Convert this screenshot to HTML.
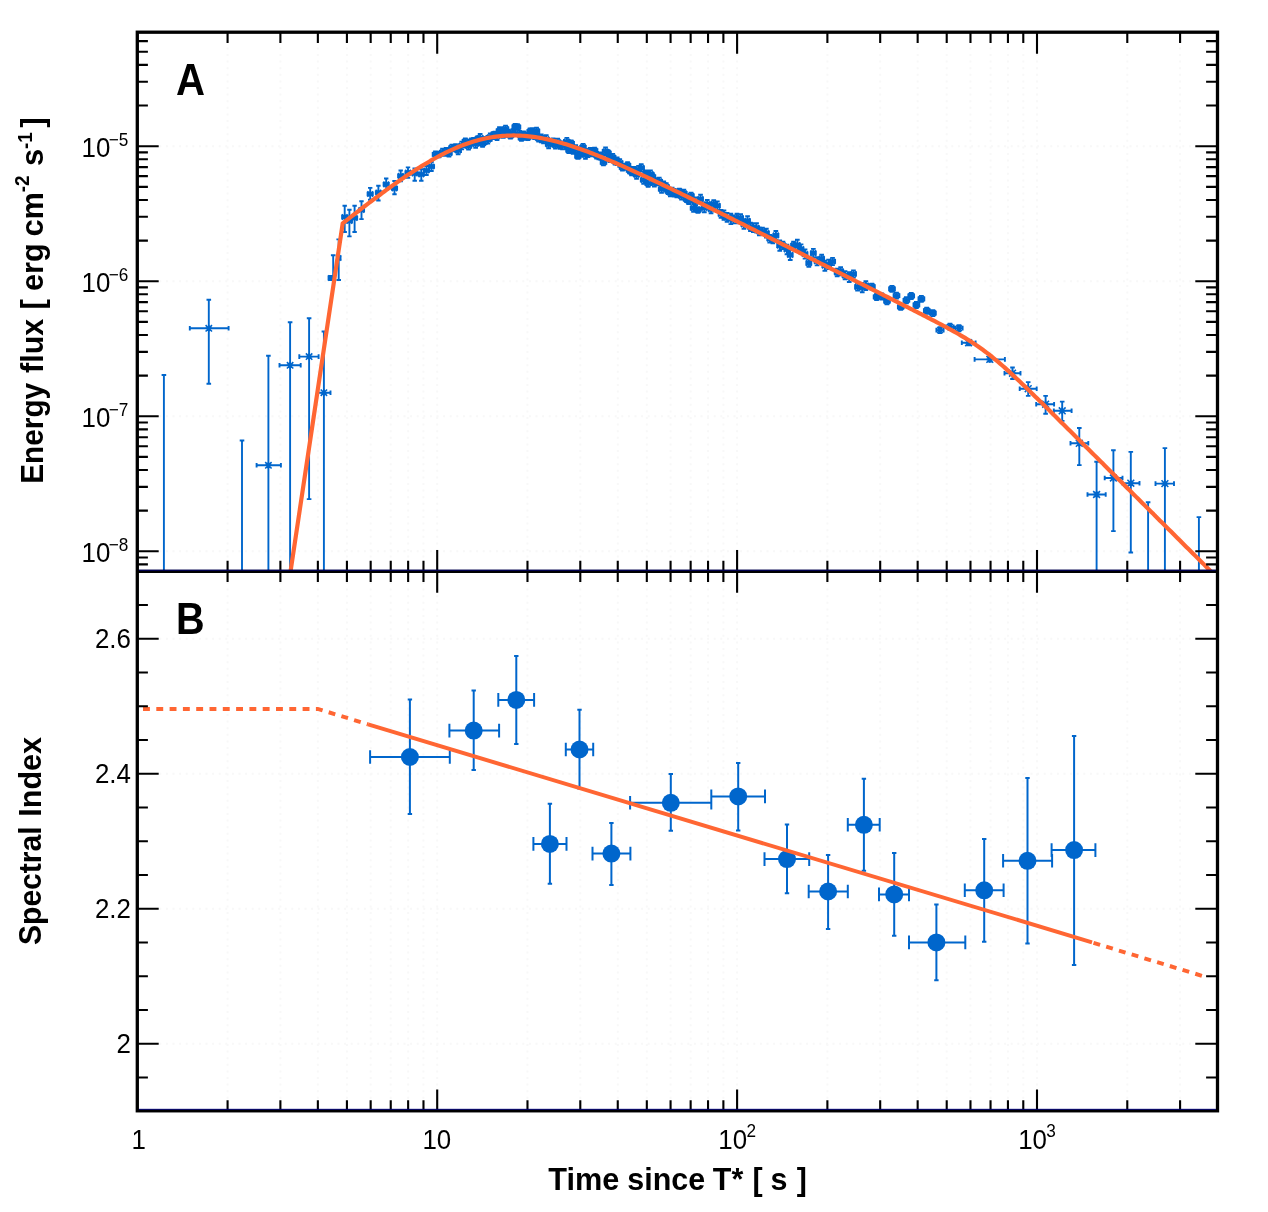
<!DOCTYPE html>
<html lang="en"><head><meta charset="utf-8"><title>Energy flux and spectral index</title>
<style>html,body{margin:0;padding:0;background:#fff}svg{display:block;will-change:transform}</style></head>
<body>
<svg width="1268" height="1212" viewBox="0 0 1268 1212">
<rect x="0" y="0" width="1268" height="1212" fill="#ffffff"/>
<defs>
<clipPath id="cu"><rect x="137.3" y="32.2" width="1080.2" height="538.5999999999999"/></clipPath>
<clipPath id="cl"><rect x="137.3" y="571.4" width="1080.2" height="539.4"/></clipPath>
</defs>
<path d="M227.58 34.2V1108.8M280.39 34.2V1108.8M317.86 34.2V1108.8M346.92 34.2V1108.8M370.67 34.2V1108.8M390.74 34.2V1108.8M408.14 34.2V1108.8M423.48 34.2V1108.8M527.48 34.2V1108.8M580.29 34.2V1108.8M617.76 34.2V1108.8M646.82 34.2V1108.8M670.57 34.2V1108.8M690.64 34.2V1108.8M708.04 34.2V1108.8M723.38 34.2V1108.8M827.38 34.2V1108.8M880.19 34.2V1108.8M917.66 34.2V1108.8M946.72 34.2V1108.8M970.47 34.2V1108.8M990.54 34.2V1108.8M1007.94 34.2V1108.8M1023.28 34.2V1108.8M1127.28 34.2V1108.8M1180.09 34.2V1108.8M1217.56 34.2V1108.8M437.20 34.2V1108.8M737.10 34.2V1108.8M1037.00 34.2V1108.8M159.3 551.29H1195.5M159.3 416.26H1195.5M159.3 281.23H1195.5M159.3 146.20H1195.5M159.3 1043.70H1195.5M159.3 908.70H1195.5M159.3 773.70H1195.5M159.3 638.70H1195.5" fill="none" stroke="#f8f8f8" stroke-width="2" stroke-dasharray="2 4.6"/>
<g clip-path="url(#cu)" fill="none" stroke="#0066cc">
<path d="M163.9 375.0V571.4M161.6 375.0h4.6M189.8 328.3H228.6M189.8 326.0v4.6M228.6 326.0v4.6M208.8 299.8V383.8M206.5 299.8h4.6M206.5 383.8h4.6M242.0 440.5V571.4M239.7 440.5h4.6M256.6 465.3H280.9M256.6 463.0v4.6M280.9 463.0v4.6M268.4 355.8V571.4M266.1 355.8h4.6M279.5 365.3H300.7M279.5 363.0v4.6M300.7 363.0v4.6M290.1 322.2V571.4M287.8 322.2h4.6M299.3 356.6H318.6M299.3 354.3v4.6M318.6 354.3v4.6M309.1 318.3V499.1M306.8 318.3h4.6M306.8 499.1h4.6M317.8 392.7H330.5M317.8 390.4v4.6M330.5 390.4v4.6M323.9 331.5V571.4M321.6 331.5h4.6M328.6 278.0H332.4M328.6 276.2v3.6M332.4 276.2v3.6M330.5 276.0V280.0M328.7 276.0h3.6M328.7 280.0h3.6M333.2 255.2V280.0M330.9 255.2h4.6M330.9 280.0h4.6M337.0 258.0H340.4M337.0 255.7v4.6M340.4 255.7v4.6M338.7 239.4V280.0M336.4 239.4h4.6M336.4 280.0h4.6M342.1 217.0H347.3M342.1 214.8v4.4M347.3 214.8v4.4M344.7 205.7V232.0M342.5 205.7h4.4M342.5 232.0h4.4M346.8 221.0H352.0M346.8 218.8v4.4M352.0 218.8v4.4M349.4 209.7V236.4M347.2 209.7h4.4M347.2 236.4h4.4M352.0 218.0H357.2M352.0 215.8v4.4M357.2 215.8v4.4M354.6 205.7V232.0M352.4 205.7h4.4M352.4 232.0h4.4M358.9 210.0H364.1M358.9 207.8v4.4M364.1 207.8v4.4M361.5 201.3V219.1M359.3 201.3h4.4M359.3 219.1h4.4M367.6 194.0H372.8M367.6 191.8v4.4M372.8 191.8v4.4M370.2 187.9V199.8M368.0 187.9h4.4M368.0 199.8h4.4M375.8 192.6H381.0M375.8 190.4v4.4M381.0 190.4v4.4M378.4 185.8V200.5M376.2 185.8h4.4M376.2 200.5h4.4M383.6 184.3H388.8M383.6 182.1v4.4M388.8 182.1v4.4M386.2 178.5V190.0M384.0 178.5h4.4M384.0 190.0h4.4M391.9 188.3H397.1M391.9 186.1v4.4M397.1 186.1v4.4M394.5 181.0V194.2M392.3 181.0h4.4M392.3 194.2h4.4M398.1 175.9H403.3M398.1 173.7v4.4M403.3 173.7v4.4M400.7 170.5V181.3M398.5 170.5h4.4M398.5 181.3h4.4M405.4 172.6H410.6M405.4 170.4v4.4M410.6 170.4v4.4M408.0 167.4V177.8M405.8 167.4h4.4M405.8 177.8h4.4M412.1 173.4H417.3M412.1 171.2v4.4M417.3 171.2v4.4M414.7 168.5V180.8M412.5 168.5h4.4M412.5 180.8h4.4M418.7 174.3H423.9M418.7 172.1v4.4M423.9 172.1v4.4M421.3 169.3V180.8M419.1 169.3h4.4M419.1 180.8h4.4M423.9 170.5H429.1M423.9 168.3v4.4M429.1 168.3v4.4M426.5 166.0V175.0M424.3 166.0h4.4M424.3 175.0h4.4M428.9 166.5H434.1M428.9 164.3v4.4M434.1 164.3v4.4M431.5 162.0V171.0M429.3 162.0h4.4M429.3 171.0h4.4M432.7 154.5H438.3M432.7 152.1v4.7M438.3 152.1v4.7M435.5 151.5V157.5M433.1 151.5h4.7M433.1 157.5h4.7M436.1 154.5H441.7M436.1 152.1v4.7M441.7 152.1v4.7M438.9 151.6V157.3M436.5 151.6h4.7M436.5 157.3h4.7M439.8 152.3H445.4M439.8 150.0v4.7M445.4 150.0v4.7M442.6 148.8V155.8M440.2 148.8h4.7M440.2 155.8h4.7M443.3 152.0H448.9M443.3 149.6v4.7M448.9 149.6v4.7M446.1 148.0V155.9M443.8 148.0h4.7M443.8 155.9h4.7M446.2 153.1H451.8M446.2 150.7v4.7M451.8 150.7v4.7M449.0 149.5V156.6M446.6 149.5h4.7M446.6 156.6h4.7M449.1 147.8H454.7M449.1 145.5v4.7M454.7 145.5v4.7M451.9 144.6V151.1M449.6 144.6h4.7M449.6 151.1h4.7M452.8 147.8H458.4M452.8 145.4v4.7M458.4 145.4v4.7M455.6 144.1V151.4M453.2 144.1h4.7M453.2 151.4h4.7M455.4 150.5H461.0M455.4 148.2v4.7M461.0 148.2v4.7M458.2 146.8V154.3M455.8 146.8h4.7M455.8 154.3h4.7M459.0 145.5H464.6M459.0 143.2v4.7M464.6 143.2v4.7M461.8 141.6V149.4M459.4 141.6h4.7M459.4 149.4h4.7M462.6 141.4H468.2M462.6 139.0v4.7M468.2 139.0v4.7M465.4 138.4V144.4M463.0 138.4h4.7M463.0 144.4h4.7M465.7 146.2H471.3M465.7 143.8v4.7M471.3 143.8v4.7M468.5 142.8V149.6M466.2 142.8h4.7M466.2 149.6h4.7M468.7 141.4H474.3M468.7 139.0v4.7M474.3 139.0v4.7M471.5 138.4V144.3M469.1 138.4h4.7M469.1 144.3h4.7M470.8 141.0H476.4M470.8 138.7v4.7M476.4 138.7v4.7M473.6 137.9V144.1M471.2 137.9h4.7M471.2 144.1h4.7M472.8 144.0H478.4M472.8 141.7v4.7M478.4 141.7v4.7M475.6 140.3V147.8M473.3 140.3h4.7M473.3 147.8h4.7M475.1 139.0H480.7M475.1 136.7v4.7M480.7 136.7v4.7M477.9 136.1V142.0M475.5 136.1h4.7M475.5 142.0h4.7M477.4 138.0H483.0M477.4 135.6v4.7M483.0 135.6v4.7M480.2 134.0V141.9M477.8 134.0h4.7M477.8 141.9h4.7M479.7 143.6H485.3M479.7 141.3v4.7M485.3 141.3v4.7M482.5 140.5V146.8M480.2 140.5h4.7M480.2 146.8h4.7M482.5 140.5H488.1M482.5 138.1v4.7M488.1 138.1v4.7M485.3 136.9V144.0M482.9 136.9h4.7M482.9 144.0h4.7M485.1 139.7H490.7M485.1 137.3v4.7M490.7 137.3v4.7M487.9 135.9V143.5M485.5 135.9h4.7M485.5 143.5h4.7M487.5 137.1H493.1M487.5 134.7v4.7M493.1 134.7v4.7M490.3 133.4V140.8M487.9 133.4h4.7M487.9 140.8h4.7M490.2 135.6H495.8M490.2 133.2v4.7M495.8 133.2v4.7M493.0 132.1V139.0M490.7 132.1h4.7M490.7 139.0h4.7M492.3 134.4H497.9M492.3 132.1v4.7M497.9 132.1v4.7M495.1 131.6V137.3M492.7 131.6h4.7M492.7 137.3h4.7M494.2 136.2H499.8M494.2 133.9v4.7M499.8 133.9v4.7M497.0 132.5V140.0M494.7 132.5h4.7M494.7 140.0h4.7M496.6 130.9H502.2M496.6 128.5v4.7M502.2 128.5v4.7M499.4 127.2V134.5M497.1 127.2h4.7M497.1 134.5h4.7M498.5 130.9H504.1M498.5 128.6v4.7M504.1 128.6v4.7M501.3 128.0V133.8M499.0 128.0h4.7M499.0 133.8h4.7M500.4 134.8H506.0M500.4 132.4v4.7M506.0 132.4v4.7M503.2 131.8V137.8M500.9 131.8h4.7M500.9 137.8h4.7M502.7 128.8H508.3M502.7 126.5v4.7M508.3 126.5v4.7M505.5 125.6V132.0M503.2 125.6h4.7M503.2 132.0h4.7M505.0 133.2H510.6M505.0 130.9v4.7M510.6 130.9v4.7M507.8 129.7V136.8M505.4 129.7h4.7M505.4 136.8h4.7M507.7 135.7H513.3M507.7 133.3v4.7M513.3 133.3v4.7M510.5 132.8V138.6M508.1 132.8h4.7M508.1 138.6h4.7M510.1 132.3H515.7M510.1 130.0v4.7M515.7 130.0v4.7M512.9 129.1V135.5M510.5 129.1h4.7M510.5 135.5h4.7M512.4 126.9H518.0M512.4 124.5v4.7M518.0 124.5v4.7M515.2 123.9V129.9M512.8 123.9h4.7M512.8 129.9h4.7M514.7 127.1H520.3M514.7 124.7v4.7M520.3 124.7v4.7M517.5 124.3V129.9M515.1 124.3h4.7M515.1 129.9h4.7M516.8 134.0H522.4M516.8 131.6v4.7M522.4 131.6v4.7M519.6 130.9V137.1M517.2 130.9h4.7M517.2 137.1h4.7M518.6 137.8H524.2M518.6 135.5v4.7M524.2 135.5v4.7M521.4 134.9V140.7M519.1 134.9h4.7M519.1 140.7h4.7M520.6 134.2H526.2M520.6 131.9v4.7M526.2 131.9v4.7M523.4 131.4V137.1M521.1 131.4h4.7M521.1 137.1h4.7M523.1 136.7H528.7M523.1 134.4v4.7M528.7 134.4v4.7M525.9 133.6V139.8M523.6 133.6h4.7M523.6 139.8h4.7M525.1 137.0H530.7M525.1 134.7v4.7M530.7 134.7v4.7M527.9 134.1V140.0M525.6 134.1h4.7M525.6 140.0h4.7M527.3 131.6H532.9M527.3 129.3v4.7M532.9 129.3v4.7M530.1 128.4V134.8M527.8 128.4h4.7M527.8 134.8h4.7M529.2 131.9H534.8M529.2 129.6v4.7M534.8 129.6v4.7M532.0 128.3V135.6M529.6 128.3h4.7M529.6 135.6h4.7M531.8 135.5H537.4M531.8 133.1v4.7M537.4 133.1v4.7M534.6 131.9V139.0M532.2 131.9h4.7M532.2 139.0h4.7M533.7 131.0H539.3M533.7 128.7v4.7M539.3 128.7v4.7M536.5 127.7V134.4M534.2 127.7h4.7M534.2 134.4h4.7M535.8 138.4H541.4M535.8 136.1v4.7M541.4 136.1v4.7M538.6 135.4V141.5M536.3 135.4h4.7M536.3 141.5h4.7M538.5 138.4H544.1M538.5 136.0v4.7M544.1 136.0v4.7M541.3 134.5V142.2M538.9 134.5h4.7M538.9 142.2h4.7M540.8 139.7H546.4M540.8 137.3v4.7M546.4 137.3v4.7M543.6 135.9V143.4M541.2 135.9h4.7M541.2 143.4h4.7M543.4 139.2H549.0M543.4 136.9v4.7M549.0 136.9v4.7M546.2 135.2V143.2M543.9 135.2h4.7M543.9 143.2h4.7M545.8 144.5H551.4M545.8 142.1v4.7M551.4 142.1v4.7M548.6 140.7V148.2M546.3 140.7h4.7M546.3 148.2h4.7M548.4 142.4H554.0M548.4 140.1v4.7M554.0 140.1v4.7M551.2 139.5V145.4M548.8 139.5h4.7M548.8 145.4h4.7M550.3 142.0H555.9M550.3 139.7v4.7M555.9 139.7v4.7M553.1 138.4V145.6M550.7 138.4h4.7M550.7 145.6h4.7M552.6 145.2H558.2M552.6 142.9v4.7M558.2 142.9v4.7M555.4 142.0V148.5M553.1 142.0h4.7M553.1 148.5h4.7M554.9 142.0H560.5M554.9 139.7v4.7M560.5 139.7v4.7M557.7 138.6V145.4M555.4 138.6h4.7M555.4 145.4h4.7M557.6 145.1H563.2M557.6 142.8v4.7M563.2 142.8v4.7M560.4 141.5V148.8M558.0 141.5h4.7M558.0 148.8h4.7M559.7 145.3H565.3M559.7 143.0v4.7M565.3 143.0v4.7M562.5 141.4V149.2M560.2 141.4h4.7M560.2 149.2h4.7M562.1 145.5H567.7M562.1 143.1v4.7M567.7 143.1v4.7M564.9 141.8V149.2M562.6 141.8h4.7M562.6 149.2h4.7M564.0 141.5H569.6M564.0 139.1v4.7M569.6 139.1v4.7M566.8 137.9V145.1M564.5 137.9h4.7M564.5 145.1h4.7M566.2 150.3H571.8M566.2 147.9v4.7M571.8 147.9v4.7M569.0 147.4V153.1M566.7 147.4h4.7M566.7 153.1h4.7M568.4 143.4H574.0M568.4 141.0v4.7M574.0 141.0v4.7M571.2 140.5V146.2M568.8 140.5h4.7M568.8 146.2h4.7M570.3 150.4H575.9M570.3 148.1v4.7M575.9 148.1v4.7M573.1 147.1V153.7M570.8 147.1h4.7M570.8 153.7h4.7M572.9 149.1H578.5M572.9 146.7v4.7M578.5 146.7v4.7M575.7 145.2V153.0M573.4 145.2h4.7M573.4 153.0h4.7M575.1 156.1H580.7M575.1 153.8v4.7M580.7 153.8v4.7M577.9 153.3V158.9M575.6 153.3h4.7M575.6 158.9h4.7M577.9 151.3H583.5M577.9 149.0v4.7M583.5 149.0v4.7M580.7 148.2V154.5M578.3 148.2h4.7M578.3 154.5h4.7M580.2 147.2H585.8M580.2 144.9v4.7M585.8 144.9v4.7M583.0 143.9V150.5M580.7 143.9h4.7M580.7 150.5h4.7M582.6 155.0H588.2M582.6 152.7v4.7M588.2 152.7v4.7M585.4 151.1V158.9M583.1 151.1h4.7M583.1 158.9h4.7M585.1 153.9H590.7M585.1 151.5v4.7M590.7 151.5v4.7M587.9 150.6V157.1M585.5 150.6h4.7M585.5 157.1h4.7M587.5 150.7H593.1M587.5 148.3v4.7M593.1 148.3v4.7M590.3 147.9V153.4M588.0 147.9h4.7M588.0 153.4h4.7M589.5 153.3H595.1M589.5 150.9v4.7M595.1 150.9v4.7M592.3 150.3V156.2M590.0 150.3h4.7M590.0 156.2h4.7M591.8 150.6H597.4M591.8 148.3v4.7M597.4 148.3v4.7M594.6 147.7V153.6M592.2 147.7h4.7M592.2 153.6h4.7M593.8 155.3H599.4M593.8 152.9v4.7M599.4 152.9v4.7M596.6 151.9V158.6M594.3 151.9h4.7M594.3 158.6h4.7M596.0 155.9H601.6M596.0 153.5v4.7M601.6 153.5v4.7M598.8 152.4V159.4M596.5 152.4h4.7M596.5 159.4h4.7M597.9 156.2H603.5M597.9 153.8v4.7M603.5 153.8v4.7M600.7 152.4V159.9M598.4 152.4h4.7M598.4 159.9h4.7M600.7 162.5H606.3M600.7 160.1v4.7M606.3 160.1v4.7M603.5 159.6V165.4M601.1 159.6h4.7M601.1 165.4h4.7M602.7 151.4H608.3M602.7 149.1v4.7M608.3 149.1v4.7M605.5 147.5V155.3M603.2 147.5h4.7M603.2 155.3h4.7M605.2 153.2H610.8M605.2 150.8v4.7M610.8 150.8v4.7M608.0 150.2V156.2M605.6 150.2h4.7M605.6 156.2h4.7M607.3 158.1H612.9M607.3 155.8v4.7M612.9 155.8v4.7M610.1 154.2V162.0M607.7 154.2h4.7M607.7 162.0h4.7M609.9 157.4H615.5M609.9 155.0v4.7M615.5 155.0v4.7M612.7 153.9V160.9M610.4 153.9h4.7M610.4 160.9h4.7M612.4 161.3H618.0M612.4 159.0v4.7M618.0 159.0v4.7M615.2 158.0V164.6M612.8 158.0h4.7M612.8 164.6h4.7M614.3 161.2H619.9M614.3 158.9v4.7M619.9 158.9v4.7M617.1 157.5V165.0M614.8 157.5h4.7M614.8 165.0h4.7M617.0 163.0H622.6M617.0 160.6v4.7M622.6 160.6v4.7M619.8 159.2V166.8M617.4 159.2h4.7M617.4 166.8h4.7M619.7 167.4H625.3M619.7 165.0v4.7M625.3 165.0v4.7M622.5 164.3V170.5M620.1 164.3h4.7M620.1 170.5h4.7M622.3 166.9H627.9M622.3 164.5v4.7M627.9 164.5v4.7M625.1 164.0V169.8M622.8 164.0h4.7M622.8 169.8h4.7M624.7 165.3H630.3M624.7 162.9v4.7M630.3 162.9v4.7M627.5 162.1V168.4M625.2 162.1h4.7M625.2 168.4h4.7M626.7 170.1H632.3M626.7 167.7v4.7M632.3 167.7v4.7M629.5 166.7V173.4M627.1 166.7h4.7M627.1 173.4h4.7M628.7 171.8H634.3M628.7 169.5v4.7M634.3 169.5v4.7M631.5 168.4V175.3M629.2 168.4h4.7M629.2 175.3h4.7M631.4 170.6H637.0M631.4 168.3v4.7M637.0 168.3v4.7M634.2 166.9V174.4M631.8 166.9h4.7M631.8 174.4h4.7M633.7 174.8H639.3M633.7 172.4v4.7M639.3 172.4v4.7M636.5 170.8V178.7M634.2 170.8h4.7M634.2 178.7h4.7M635.7 169.5H641.3M635.7 167.1v4.7M641.3 167.1v4.7M638.5 165.9V173.1M636.2 165.9h4.7M636.2 173.1h4.7M638.4 167.8H644.0M638.4 165.5v4.7M644.0 165.5v4.7M641.2 164.3V171.4M638.9 164.3h4.7M638.9 171.4h4.7M640.8 180.0H646.4M640.8 177.6v4.7M646.4 177.6v4.7M643.6 176.3V183.7M641.3 176.3h4.7M641.3 183.7h4.7M643.2 173.3H648.8M643.2 170.9v4.7M648.8 170.9v4.7M646.0 170.5V176.0M643.6 170.5h4.7M643.6 176.0h4.7M645.4 183.5H651.0M645.4 181.2v4.7M651.0 181.2v4.7M648.2 180.3V186.8M645.8 180.3h4.7M645.8 186.8h4.7M647.6 174.1H653.2M647.6 171.7v4.7M653.2 171.7v4.7M650.4 170.4V177.8M648.1 170.4h4.7M648.1 177.8h4.7M649.7 176.7H655.3M649.7 174.4v4.7M655.3 174.4v4.7M652.5 173.3V180.1M650.1 173.3h4.7M650.1 180.1h4.7M651.5 183.0H657.1M651.5 180.7v4.7M657.1 180.7v4.7M654.3 179.5V186.5M652.0 179.5h4.7M652.0 186.5h4.7M654.2 181.7H659.8M654.2 179.4v4.7M659.8 179.4v4.7M657.0 178.2V185.2M654.6 178.2h4.7M654.6 185.2h4.7M656.5 181.4H662.1M656.5 179.1v4.7M662.1 179.1v4.7M659.3 177.6V185.2M656.9 177.6h4.7M656.9 185.2h4.7M658.8 189.0H664.4M658.8 186.7v4.7M664.4 186.7v4.7M661.6 185.3V192.7M659.2 185.3h4.7M659.2 192.7h4.7M660.9 185.1H666.5M660.9 182.8v4.7M666.5 182.8v4.7M663.7 181.4V188.9M661.4 181.4h4.7M661.4 188.9h4.7M663.5 186.9H669.1M663.5 184.6v4.7M669.1 184.6v4.7M666.3 183.2V190.7M663.9 183.2h4.7M663.9 190.7h4.7M665.3 190.9H670.9M665.3 188.5v4.7M670.9 188.5v4.7M668.1 187.6V194.1M665.8 187.6h4.7M665.8 194.1h4.7M667.5 192.7H673.1M667.5 190.3v4.7M673.1 190.3v4.7M670.3 189.0V196.3M668.0 189.0h4.7M668.0 196.3h4.7M669.4 191.5H675.0M669.4 189.1v4.7M675.0 189.1v4.7M672.2 187.8V195.2M669.8 187.8h4.7M669.8 195.2h4.7M671.3 192.8H676.9M671.3 190.4v4.7M676.9 190.4v4.7M674.1 189.0V196.5M671.8 189.0h4.7M671.8 196.5h4.7M674.1 193.7H679.7M674.1 191.4v4.7M679.7 191.4v4.7M676.9 190.0V197.4M674.5 190.0h4.7M674.5 197.4h4.7M676.5 191.4H682.1M676.5 189.0v4.7M682.1 189.0v4.7M679.3 188.6V194.1M677.0 188.6h4.7M677.0 194.1h4.7M678.7 196.2H684.3M678.7 193.8v4.7M684.3 193.8v4.7M681.5 192.7V199.6M679.2 192.7h4.7M679.2 199.6h4.7M681.1 193.3H686.7M681.1 190.9v4.7M686.7 190.9v4.7M683.9 189.7V196.9M681.5 189.7h4.7M681.5 196.9h4.7M683.7 199.2H689.3M683.7 196.8v4.7M689.3 196.8v4.7M686.5 196.2V202.1M684.2 196.2h4.7M684.2 202.1h4.7M685.9 200.7H691.5M685.9 198.4v4.7M691.5 198.4v4.7M688.7 197.4V204.0M686.3 197.4h4.7M686.3 204.0h4.7M688.2 195.8H693.8M688.2 193.5v4.7M693.8 193.5v4.7M691.0 192.6V199.0M688.7 192.6h4.7M688.7 199.0h4.7M690.7 208.1H696.3M690.7 205.7v4.7M696.3 205.7v4.7M693.5 204.2V211.9M691.2 204.2h4.7M691.2 211.9h4.7M692.9 201.3H698.5M692.9 198.9v4.7M698.5 198.9v4.7M695.7 197.4V205.1M693.3 197.4h4.7M693.3 205.1h4.7M695.2 209.9H700.8M695.2 207.5v4.7M700.8 207.5v4.7M698.0 207.1V212.7M695.6 207.1h4.7M695.6 212.7h4.7M698.0 199.1H703.0M698.0 196.8v4.7M703.0 196.8v4.7M700.5 194.8V203.4M698.2 194.8h4.7M698.2 203.4h4.7M701.9 207.9H706.9M701.9 205.5v4.7M706.9 205.5v4.7M704.4 203.5V212.2M702.0 203.5h4.7M702.0 212.2h4.7M704.7 204.2H709.7M704.7 201.9v4.7M709.7 201.9v4.7M707.2 200.0V208.4M704.9 200.0h4.7M704.9 208.4h4.7M708.6 209.2H713.6M708.6 206.9v4.7M713.6 206.9v4.7M711.1 205.1V213.3M708.7 205.1h4.7M708.7 213.3h4.7M711.2 203.8H716.2M711.2 201.5v4.7M716.2 201.5v4.7M713.7 200.2V207.5M711.4 200.2h4.7M711.4 207.5h4.7M714.9 205.8H719.9M714.9 203.4v4.7M719.9 203.4v4.7M717.4 201.4V210.1M715.0 201.4h4.7M715.0 210.1h4.7M718.6 213.9H723.6M718.6 211.6v4.7M723.6 211.6v4.7M721.1 209.9V217.9M718.7 209.9h4.7M718.7 217.9h4.7M721.4 215.1H726.4M721.4 212.8v4.7M726.4 212.8v4.7M723.9 210.5V219.8M721.6 210.5h4.7M721.6 219.8h4.7M724.6 217.5H729.6M724.6 215.1v4.7M729.6 215.1v4.7M727.1 213.0V221.9M724.7 213.0h4.7M724.7 221.9h4.7M728.3 218.9H733.3M728.3 216.6v4.7M733.3 216.6v4.7M730.8 213.8V224.1M728.5 213.8h4.7M728.5 224.1h4.7M731.0 219.4H736.0M731.0 217.0v4.7M736.0 217.0v4.7M733.5 215.4V223.4M731.1 215.4h4.7M731.1 223.4h4.7M734.4 218.5H739.4M734.4 216.2v4.7M739.4 216.2v4.7M736.9 213.7V223.4M734.6 213.7h4.7M734.6 223.4h4.7M738.1 218.0H743.1M738.1 215.6v4.7M743.1 215.6v4.7M740.6 214.2V221.8M738.3 214.2h4.7M738.3 221.8h4.7M741.4 224.3H746.4M741.4 221.9v4.7M746.4 221.9v4.7M743.9 219.9V228.7M741.6 219.9h4.7M741.6 228.7h4.7M745.0 220.9H750.0M745.0 218.5v4.7M750.0 218.5v4.7M747.5 216.3V225.5M745.2 216.3h4.7M745.2 225.5h4.7M748.0 226.9H753.0M748.0 224.5v4.7M753.0 224.5v4.7M750.5 222.7V231.0M748.1 222.7h4.7M748.1 231.0h4.7M750.9 227.7H755.9M750.9 225.3v4.7M755.9 225.3v4.7M753.4 223.3V232.0M751.0 223.3h4.7M751.0 232.0h4.7M754.0 227.9H759.0M754.0 225.6v4.7M759.0 225.6v4.7M756.5 223.3V232.6M754.2 223.3h4.7M754.2 232.6h4.7M756.9 231.4H761.9M756.9 229.0v4.7M761.9 229.0v4.7M759.4 227.5V235.3M757.0 227.5h4.7M757.0 235.3h4.7M760.0 231.3H765.0M760.0 228.9v4.7M765.0 228.9v4.7M762.5 227.7V234.9M760.1 227.7h4.7M760.1 234.9h4.7M763.9 233.2H768.9M763.9 230.8v4.7M768.9 230.8v4.7M766.4 228.8V237.5M764.0 228.8h4.7M764.0 237.5h4.7M767.3 238.7H772.3M767.3 236.3v4.7M772.3 236.3v4.7M769.8 234.9V242.5M767.4 234.9h4.7M767.4 242.5h4.7M770.4 239.3H775.4M770.4 237.0v4.7M775.4 237.0v4.7M772.9 235.5V243.2M770.5 235.5h4.7M770.5 243.2h4.7M773.4 235.3H778.4M773.4 233.0v4.7M778.4 233.0v4.7M775.9 231.0V239.6M773.5 231.0h4.7M773.5 239.6h4.7M777.2 245.6H782.2M777.2 243.3v4.7M782.2 243.3v4.7M779.7 240.5V250.8M777.4 240.5h4.7M777.4 250.8h4.7M780.5 245.4H785.5M780.5 243.1v4.7M785.5 243.1v4.7M783.0 241.8V249.1M780.6 241.8h4.7M780.6 249.1h4.7M784.4 249.4H789.4M784.4 247.1v4.7M789.4 247.1v4.7M786.9 244.6V254.3M784.6 244.6h4.7M784.6 254.3h4.7M787.7 254.9H792.7M787.7 252.5v4.7M792.7 252.5v4.7M790.2 249.8V260.0M787.9 249.8h4.7M787.9 260.0h4.7M791.1 245.4H796.1M791.1 243.1v4.7M796.1 243.1v4.7M793.6 241.8V249.0M791.2 241.8h4.7M791.2 249.0h4.7M794.9 245.1H799.9M794.9 242.7v4.7M799.9 242.7v4.7M797.4 239.8V250.3M795.0 239.8h4.7M795.0 250.3h4.7M798.5 249.1H803.5M798.5 246.7v4.7M803.5 246.7v4.7M801.0 244.4V253.8M798.7 244.4h4.7M798.7 253.8h4.7M802.5 254.0H807.5M802.5 251.7v4.7M807.5 251.7v4.7M805.0 249.5V258.6M802.7 249.5h4.7M802.7 258.6h4.7M806.3 263.1H811.3M806.3 260.7v4.7M811.3 260.7v4.7M808.8 259.5V266.7M806.5 259.5h4.7M806.5 266.7h4.7M810.8 253.2H815.8M810.8 250.8v4.7M815.8 250.8v4.7M813.3 248.9V257.4M811.0 248.9h4.7M811.0 257.4h4.7M814.6 261.2H819.6M814.6 258.9v4.7M819.6 258.9v4.7M817.1 257.1V265.4M814.7 257.1h4.7M814.7 265.4h4.7M819.1 258.6H824.1M819.1 256.3v4.7M824.1 256.3v4.7M821.6 254.7V262.5M819.3 254.7h4.7M819.3 262.5h4.7M822.4 265.7H827.4M822.4 263.3v4.7M827.4 263.3v4.7M824.9 260.6V270.8M822.5 260.6h4.7M822.5 270.8h4.7M826.1 264.3H831.1M826.1 262.0v4.7M831.1 262.0v4.7M828.6 259.6V269.0M826.3 259.6h4.7M826.3 269.0h4.7M830.1 261.5H835.1M830.1 259.1v4.7M835.1 259.1v4.7M832.6 257.9V265.1M830.2 257.9h4.7M830.2 265.1h4.7M834.7 272.4H839.7M834.7 270.1v4.7M839.7 270.1v4.7M837.2 268.6V276.2M834.8 268.6h4.7M834.8 276.2h4.7M838.2 271.2H843.2M838.2 268.9v4.7M843.2 268.9v4.7M840.7 267.3V275.2M838.3 267.3h4.7M838.3 275.2h4.7M842.6 275.3H847.6M842.6 273.0v4.7M847.6 273.0v4.7M845.1 271.3V279.3M842.7 271.3h4.7M842.7 279.3h4.7M846.7 277.0H851.7M846.7 274.7v4.7M851.7 274.7v4.7M849.2 272.1V282.0M846.9 272.1h4.7M846.9 282.0h4.7M851.0 274.0H856.0M851.0 271.6v4.7M856.0 271.6v4.7M853.5 270.4V277.6M851.1 270.4h4.7M851.1 277.6h4.7M855.1 286.9H860.1M855.1 284.6v4.7M860.1 284.6v4.7M857.6 283.2V290.6M855.2 283.2h4.7M855.2 290.6h4.7M859.7 287.6H864.7M859.7 285.2v4.7M864.7 285.2v4.7M862.2 283.0V292.2M859.9 283.0h4.7M859.9 292.2h4.7M863.4 285.6H868.4M863.4 283.3v4.7M868.4 283.3v4.7M865.9 281.3V290.0M863.5 281.3h4.7M863.5 290.0h4.7M869.0 286.6H874.8M869.0 284.2v4.7M874.8 284.2v4.7M871.9 283.6V289.6M869.5 283.6h4.7M869.5 289.6h4.7M873.7 297.0H879.5M873.7 294.6v4.7M879.5 294.6v4.7M876.6 294.0V300.0M874.2 294.0h4.7M874.2 300.0h4.7M878.9 296.5H884.7M878.9 294.1v4.7M884.7 294.1v4.7M881.8 293.5V299.5M879.4 293.5h4.7M879.4 299.5h4.7M884.1 301.2H889.9M884.1 298.8v4.7M889.9 298.8v4.7M887.0 298.2V304.2M884.6 298.2h4.7M884.6 304.2h4.7M889.1 288.9H894.9M889.1 286.5v4.7M894.9 286.5v4.7M892.0 285.9V291.9M889.6 285.9h4.7M889.6 291.9h4.7M893.6 295.6H899.4M893.6 293.2v4.7M899.4 293.2v4.7M896.5 292.6V298.6M894.1 292.6h4.7M894.1 298.6h4.7M897.9 306.9H903.7M897.9 304.5v4.7M903.7 304.5v4.7M900.8 303.9V309.9M898.4 303.9h4.7M898.4 309.9h4.7M903.5 300.3H909.3M903.5 297.9v4.7M909.3 297.9v4.7M906.4 297.3V303.3M904.0 297.3h4.7M904.0 303.3h4.7M908.3 296.0H914.1M908.3 293.6v4.7M914.1 293.6v4.7M911.2 293.0V299.0M908.9 293.0h4.7M908.9 299.0h4.7M913.5 305.0H919.3M913.5 302.6v4.7M919.3 302.6v4.7M916.4 302.0V308.0M914.0 302.0h4.7M914.0 308.0h4.7M918.5 298.9H924.3M918.5 296.5v4.7M924.3 296.5v4.7M921.4 295.9V301.9M919.0 295.9h4.7M919.0 301.9h4.7M923.9 310.7H929.7M923.9 308.3v4.7M929.7 308.3v4.7M926.8 307.7V313.7M924.4 307.7h4.7M924.4 313.7h4.7M930.0 313.1H935.8M930.0 310.8v4.7M935.8 310.8v4.7M932.9 310.1V316.1M930.5 310.1h4.7M930.5 316.1h4.7M936.4 330.1H943.6M936.4 327.8v4.7M943.6 327.8v4.7M940.0 327.1V333.1M937.6 327.1h4.7M937.6 333.1h4.7M946.4 326.8H953.6M946.4 324.4v4.7M953.6 324.4v4.7M950.0 323.8V329.8M947.6 323.8h4.7M947.6 329.8h4.7M955.4 328.2H962.6M955.4 325.8v4.7M962.6 325.8v4.7M959.0 325.2V331.2M956.6 325.2h4.7M956.6 331.2h4.7M961.8 342.7H975.6M961.8 340.4v4.6M975.6 340.4v4.6M968.6 340.2V345.2M966.3 340.2h4.6M966.3 345.2h4.6M974.6 359.4H1004.9M974.6 357.1v4.6M1004.9 357.1v4.6M989.8 357.2V361.6M987.5 357.2h4.6M987.5 361.6h4.6M1004.5 373.2H1020.5M1004.5 370.9v4.6M1020.5 370.9v4.6M1012.5 367.5V379.0M1010.2 367.5h4.6M1010.2 379.0h4.6M1019.7 388.7H1036.7M1019.7 386.4v4.6M1036.7 386.4v4.6M1028.2 382.1V395.9M1025.9 382.1h4.6M1025.9 395.9h4.6M1036.2 404.2H1054.1M1036.2 401.9v4.6M1054.1 401.9v4.6M1045.6 395.9V413.7M1043.3 395.9h4.6M1043.3 413.7h4.6M1053.8 410.8H1071.6M1053.8 408.5v4.6M1071.6 408.5v4.6M1062.2 401.6V420.9M1059.9 401.6h4.6M1059.9 420.9h4.6M1070.5 443.3H1088.3M1070.5 441.0v4.6M1088.3 441.0v4.6M1079.3 428.0V465.1M1077.0 428.0h4.6M1077.0 465.1h4.6M1087.5 494.5H1105.7M1087.5 492.2v4.6M1105.7 492.2v4.6M1096.6 461.8V571.4M1094.3 461.8h4.6M1104.7 478.0H1122.5M1104.7 475.7v4.6M1122.5 475.7v4.6M1113.4 450.2V531.1M1111.1 450.2h4.6M1111.1 531.1h4.6M1122.5 483.2H1139.5M1122.5 480.9v4.6M1139.5 480.9v4.6M1130.8 451.9V552.5M1128.5 451.9h4.6M1128.5 552.5h4.6M1155.5 483.6H1174.0M1155.5 481.3v4.6M1174.0 481.3v4.6M1164.9 448.1V571.4M1162.6 448.1h4.6M1148.1 502.2V571.4M1145.8 502.2h4.6M1198.9 517.1V571.4M1196.6 517.1h4.6" stroke-width="1.9"/>
<path d="M205.6 325.1l6.4 6.4M205.6 331.5l6.4 -6.4M205.6 328.3h6.4M208.8 325.1v6.4M265.2 462.1l6.4 6.4M265.2 468.5l6.4 -6.4M265.2 465.3h6.4M268.4 462.1v6.4M286.9 362.1l6.4 6.4M286.9 368.5l6.4 -6.4M286.9 365.3h6.4M290.1 362.1v6.4M305.9 353.4l6.4 6.4M305.9 359.8l6.4 -6.4M305.9 356.6h6.4M309.1 353.4v6.4M320.7 389.5l6.4 6.4M320.7 395.9l6.4 -6.4M320.7 392.7h6.4M323.9 389.5v6.4M327.9 275.4l5.2 5.2M327.9 280.6l5.2 -5.2M327.9 278.0h5.2M330.5 275.4v5.2M336.1 255.4l5.2 5.2M336.1 260.6l5.2 -5.2M336.1 258.0h5.2M338.7 255.4v5.2M341.9 214.2l5.6 5.6M341.9 219.8l5.6 -5.6M341.9 217.0h5.6M344.7 214.2v5.6M346.6 218.2l5.6 5.6M346.6 223.8l5.6 -5.6M346.6 221.0h5.6M349.4 218.2v5.6M351.8 215.2l5.6 5.6M351.8 220.8l5.6 -5.6M351.8 218.0h5.6M354.6 215.2v5.6M358.7 207.2l5.6 5.6M358.7 212.8l5.6 -5.6M358.7 210.0h5.6M361.5 207.2v5.6M367.4 191.2l5.6 5.6M367.4 196.8l5.6 -5.6M367.4 194.0h5.6M370.2 191.2v5.6M375.6 189.8l5.6 5.6M375.6 195.4l5.6 -5.6M375.6 192.6h5.6M378.4 189.8v5.6M383.4 181.5l5.6 5.6M383.4 187.1l5.6 -5.6M383.4 184.3h5.6M386.2 181.5v5.6M391.7 185.5l5.6 5.6M391.7 191.1l5.6 -5.6M391.7 188.3h5.6M394.5 185.5v5.6M397.9 173.1l5.6 5.6M397.9 178.7l5.6 -5.6M397.9 175.9h5.6M400.7 173.1v5.6M405.2 169.8l5.6 5.6M405.2 175.4l5.6 -5.6M405.2 172.6h5.6M408.0 169.8v5.6M411.9 170.6l5.6 5.6M411.9 176.2l5.6 -5.6M411.9 173.4h5.6M414.7 170.6v5.6M418.5 171.5l5.6 5.6M418.5 177.1l5.6 -5.6M418.5 174.3h5.6M421.3 171.5v5.6M423.7 167.7l5.6 5.6M423.7 173.3l5.6 -5.6M423.7 170.5h5.6M426.5 167.7v5.6M428.7 163.7l5.6 5.6M428.7 169.3l5.6 -5.6M428.7 166.5h5.6M431.5 163.7v5.6M432.7 151.7l5.6 5.6M432.7 157.3l5.6 -5.6M432.7 154.5h5.6M435.5 151.7v5.6M436.1 151.7l5.6 5.6M436.1 157.3l5.6 -5.6M436.1 154.5h5.6M438.9 151.7v5.6M439.8 149.5l5.6 5.6M439.8 155.1l5.6 -5.6M439.8 152.3h5.6M442.6 149.5v5.6M443.3 149.2l5.6 5.6M443.3 154.8l5.6 -5.6M443.3 152.0h5.6M446.1 149.2v5.6M446.2 150.3l5.6 5.6M446.2 155.9l5.6 -5.6M446.2 153.1h5.6M449.0 150.3v5.6M449.1 145.0l5.6 5.6M449.1 150.6l5.6 -5.6M449.1 147.8h5.6M451.9 145.0v5.6M452.8 145.0l5.6 5.6M452.8 150.6l5.6 -5.6M452.8 147.8h5.6M455.6 145.0v5.6M455.4 147.7l5.6 5.6M455.4 153.3l5.6 -5.6M455.4 150.5h5.6M458.2 147.7v5.6M459.0 142.7l5.6 5.6M459.0 148.3l5.6 -5.6M459.0 145.5h5.6M461.8 142.7v5.6M462.6 138.6l5.6 5.6M462.6 144.2l5.6 -5.6M462.6 141.4h5.6M465.4 138.6v5.6M465.7 143.4l5.6 5.6M465.7 149.0l5.6 -5.6M465.7 146.2h5.6M468.5 143.4v5.6M468.7 138.6l5.6 5.6M468.7 144.2l5.6 -5.6M468.7 141.4h5.6M471.5 138.6v5.6M470.8 138.2l5.6 5.6M470.8 143.8l5.6 -5.6M470.8 141.0h5.6M473.6 138.2v5.6M472.8 141.2l5.6 5.6M472.8 146.8l5.6 -5.6M472.8 144.0h5.6M475.6 141.2v5.6M475.1 136.2l5.6 5.6M475.1 141.8l5.6 -5.6M475.1 139.0h5.6M477.9 136.2v5.6M477.4 135.2l5.6 5.6M477.4 140.8l5.6 -5.6M477.4 138.0h5.6M480.2 135.2v5.6M479.7 140.8l5.6 5.6M479.7 146.4l5.6 -5.6M479.7 143.6h5.6M482.5 140.8v5.6M482.5 137.7l5.6 5.6M482.5 143.3l5.6 -5.6M482.5 140.5h5.6M485.3 137.7v5.6M485.1 136.9l5.6 5.6M485.1 142.5l5.6 -5.6M485.1 139.7h5.6M487.9 136.9v5.6M487.5 134.3l5.6 5.6M487.5 139.9l5.6 -5.6M487.5 137.1h5.6M490.3 134.3v5.6M490.2 132.8l5.6 5.6M490.2 138.4l5.6 -5.6M490.2 135.6h5.6M493.0 132.8v5.6M492.3 131.6l5.6 5.6M492.3 137.2l5.6 -5.6M492.3 134.4h5.6M495.1 131.6v5.6M494.2 133.4l5.6 5.6M494.2 139.0l5.6 -5.6M494.2 136.2h5.6M497.0 133.4v5.6M496.6 128.1l5.6 5.6M496.6 133.7l5.6 -5.6M496.6 130.9h5.6M499.4 128.1v5.6M498.5 128.1l5.6 5.6M498.5 133.7l5.6 -5.6M498.5 130.9h5.6M501.3 128.1v5.6M500.4 132.0l5.6 5.6M500.4 137.6l5.6 -5.6M500.4 134.8h5.6M503.2 132.0v5.6M502.7 126.0l5.6 5.6M502.7 131.6l5.6 -5.6M502.7 128.8h5.6M505.5 126.0v5.6M505.0 130.4l5.6 5.6M505.0 136.0l5.6 -5.6M505.0 133.2h5.6M507.8 130.4v5.6M507.7 132.9l5.6 5.6M507.7 138.5l5.6 -5.6M507.7 135.7h5.6M510.5 132.9v5.6M510.1 129.5l5.6 5.6M510.1 135.1l5.6 -5.6M510.1 132.3h5.6M512.9 129.5v5.6M512.4 124.1l5.6 5.6M512.4 129.7l5.6 -5.6M512.4 126.9h5.6M515.2 124.1v5.6M514.7 124.3l5.6 5.6M514.7 129.9l5.6 -5.6M514.7 127.1h5.6M517.5 124.3v5.6M516.8 131.2l5.6 5.6M516.8 136.8l5.6 -5.6M516.8 134.0h5.6M519.6 131.2v5.6M518.6 135.0l5.6 5.6M518.6 140.6l5.6 -5.6M518.6 137.8h5.6M521.4 135.0v5.6M520.6 131.4l5.6 5.6M520.6 137.0l5.6 -5.6M520.6 134.2h5.6M523.4 131.4v5.6M523.1 133.9l5.6 5.6M523.1 139.5l5.6 -5.6M523.1 136.7h5.6M525.9 133.9v5.6M525.1 134.2l5.6 5.6M525.1 139.8l5.6 -5.6M525.1 137.0h5.6M527.9 134.2v5.6M527.3 128.8l5.6 5.6M527.3 134.4l5.6 -5.6M527.3 131.6h5.6M530.1 128.8v5.6M529.2 129.1l5.6 5.6M529.2 134.7l5.6 -5.6M529.2 131.9h5.6M532.0 129.1v5.6M531.8 132.7l5.6 5.6M531.8 138.3l5.6 -5.6M531.8 135.5h5.6M534.6 132.7v5.6M533.7 128.2l5.6 5.6M533.7 133.8l5.6 -5.6M533.7 131.0h5.6M536.5 128.2v5.6M535.8 135.6l5.6 5.6M535.8 141.2l5.6 -5.6M535.8 138.4h5.6M538.6 135.6v5.6M538.5 135.6l5.6 5.6M538.5 141.2l5.6 -5.6M538.5 138.4h5.6M541.3 135.6v5.6M540.8 136.9l5.6 5.6M540.8 142.5l5.6 -5.6M540.8 139.7h5.6M543.6 136.9v5.6M543.4 136.4l5.6 5.6M543.4 142.0l5.6 -5.6M543.4 139.2h5.6M546.2 136.4v5.6M545.8 141.7l5.6 5.6M545.8 147.3l5.6 -5.6M545.8 144.5h5.6M548.6 141.7v5.6M548.4 139.6l5.6 5.6M548.4 145.2l5.6 -5.6M548.4 142.4h5.6M551.2 139.6v5.6M550.3 139.2l5.6 5.6M550.3 144.8l5.6 -5.6M550.3 142.0h5.6M553.1 139.2v5.6M552.6 142.4l5.6 5.6M552.6 148.0l5.6 -5.6M552.6 145.2h5.6M555.4 142.4v5.6M554.9 139.2l5.6 5.6M554.9 144.8l5.6 -5.6M554.9 142.0h5.6M557.7 139.2v5.6M557.6 142.3l5.6 5.6M557.6 147.9l5.6 -5.6M557.6 145.1h5.6M560.4 142.3v5.6M559.7 142.5l5.6 5.6M559.7 148.1l5.6 -5.6M559.7 145.3h5.6M562.5 142.5v5.6M562.1 142.7l5.6 5.6M562.1 148.3l5.6 -5.6M562.1 145.5h5.6M564.9 142.7v5.6M564.0 138.7l5.6 5.6M564.0 144.3l5.6 -5.6M564.0 141.5h5.6M566.8 138.7v5.6M566.2 147.5l5.6 5.6M566.2 153.1l5.6 -5.6M566.2 150.3h5.6M569.0 147.5v5.6M568.4 140.6l5.6 5.6M568.4 146.2l5.6 -5.6M568.4 143.4h5.6M571.2 140.6v5.6M570.3 147.6l5.6 5.6M570.3 153.2l5.6 -5.6M570.3 150.4h5.6M573.1 147.6v5.6M572.9 146.3l5.6 5.6M572.9 151.9l5.6 -5.6M572.9 149.1h5.6M575.7 146.3v5.6M575.1 153.3l5.6 5.6M575.1 158.9l5.6 -5.6M575.1 156.1h5.6M577.9 153.3v5.6M577.9 148.5l5.6 5.6M577.9 154.1l5.6 -5.6M577.9 151.3h5.6M580.7 148.5v5.6M580.2 144.4l5.6 5.6M580.2 150.0l5.6 -5.6M580.2 147.2h5.6M583.0 144.4v5.6M582.6 152.2l5.6 5.6M582.6 157.8l5.6 -5.6M582.6 155.0h5.6M585.4 152.2v5.6M585.1 151.1l5.6 5.6M585.1 156.7l5.6 -5.6M585.1 153.9h5.6M587.9 151.1v5.6M587.5 147.9l5.6 5.6M587.5 153.5l5.6 -5.6M587.5 150.7h5.6M590.3 147.9v5.6M589.5 150.5l5.6 5.6M589.5 156.1l5.6 -5.6M589.5 153.3h5.6M592.3 150.5v5.6M591.8 147.8l5.6 5.6M591.8 153.4l5.6 -5.6M591.8 150.6h5.6M594.6 147.8v5.6M593.8 152.5l5.6 5.6M593.8 158.1l5.6 -5.6M593.8 155.3h5.6M596.6 152.5v5.6M596.0 153.1l5.6 5.6M596.0 158.7l5.6 -5.6M596.0 155.9h5.6M598.8 153.1v5.6M597.9 153.4l5.6 5.6M597.9 159.0l5.6 -5.6M597.9 156.2h5.6M600.7 153.4v5.6M600.7 159.7l5.6 5.6M600.7 165.3l5.6 -5.6M600.7 162.5h5.6M603.5 159.7v5.6M602.7 148.6l5.6 5.6M602.7 154.2l5.6 -5.6M602.7 151.4h5.6M605.5 148.6v5.6M605.2 150.4l5.6 5.6M605.2 156.0l5.6 -5.6M605.2 153.2h5.6M608.0 150.4v5.6M607.3 155.3l5.6 5.6M607.3 160.9l5.6 -5.6M607.3 158.1h5.6M610.1 155.3v5.6M609.9 154.6l5.6 5.6M609.9 160.2l5.6 -5.6M609.9 157.4h5.6M612.7 154.6v5.6M612.4 158.5l5.6 5.6M612.4 164.1l5.6 -5.6M612.4 161.3h5.6M615.2 158.5v5.6M614.3 158.4l5.6 5.6M614.3 164.0l5.6 -5.6M614.3 161.2h5.6M617.1 158.4v5.6M617.0 160.2l5.6 5.6M617.0 165.8l5.6 -5.6M617.0 163.0h5.6M619.8 160.2v5.6M619.7 164.6l5.6 5.6M619.7 170.2l5.6 -5.6M619.7 167.4h5.6M622.5 164.6v5.6M622.3 164.1l5.6 5.6M622.3 169.7l5.6 -5.6M622.3 166.9h5.6M625.1 164.1v5.6M624.7 162.5l5.6 5.6M624.7 168.1l5.6 -5.6M624.7 165.3h5.6M627.5 162.5v5.6M626.7 167.3l5.6 5.6M626.7 172.9l5.6 -5.6M626.7 170.1h5.6M629.5 167.3v5.6M628.7 169.0l5.6 5.6M628.7 174.6l5.6 -5.6M628.7 171.8h5.6M631.5 169.0v5.6M631.4 167.8l5.6 5.6M631.4 173.4l5.6 -5.6M631.4 170.6h5.6M634.2 167.8v5.6M633.7 172.0l5.6 5.6M633.7 177.6l5.6 -5.6M633.7 174.8h5.6M636.5 172.0v5.6M635.7 166.7l5.6 5.6M635.7 172.3l5.6 -5.6M635.7 169.5h5.6M638.5 166.7v5.6M638.4 165.0l5.6 5.6M638.4 170.6l5.6 -5.6M638.4 167.8h5.6M641.2 165.0v5.6M640.8 177.2l5.6 5.6M640.8 182.8l5.6 -5.6M640.8 180.0h5.6M643.6 177.2v5.6M643.2 170.5l5.6 5.6M643.2 176.1l5.6 -5.6M643.2 173.3h5.6M646.0 170.5v5.6M645.4 180.7l5.6 5.6M645.4 186.3l5.6 -5.6M645.4 183.5h5.6M648.2 180.7v5.6M647.6 171.3l5.6 5.6M647.6 176.9l5.6 -5.6M647.6 174.1h5.6M650.4 171.3v5.6M649.7 173.9l5.6 5.6M649.7 179.5l5.6 -5.6M649.7 176.7h5.6M652.5 173.9v5.6M651.5 180.2l5.6 5.6M651.5 185.8l5.6 -5.6M651.5 183.0h5.6M654.3 180.2v5.6M654.2 178.9l5.6 5.6M654.2 184.5l5.6 -5.6M654.2 181.7h5.6M657.0 178.9v5.6M656.5 178.6l5.6 5.6M656.5 184.2l5.6 -5.6M656.5 181.4h5.6M659.3 178.6v5.6M658.8 186.2l5.6 5.6M658.8 191.8l5.6 -5.6M658.8 189.0h5.6M661.6 186.2v5.6M660.9 182.3l5.6 5.6M660.9 187.9l5.6 -5.6M660.9 185.1h5.6M663.7 182.3v5.6M663.5 184.1l5.6 5.6M663.5 189.7l5.6 -5.6M663.5 186.9h5.6M666.3 184.1v5.6M665.3 188.1l5.6 5.6M665.3 193.7l5.6 -5.6M665.3 190.9h5.6M668.1 188.1v5.6M667.5 189.9l5.6 5.6M667.5 195.5l5.6 -5.6M667.5 192.7h5.6M670.3 189.9v5.6M669.4 188.7l5.6 5.6M669.4 194.3l5.6 -5.6M669.4 191.5h5.6M672.2 188.7v5.6M671.3 190.0l5.6 5.6M671.3 195.6l5.6 -5.6M671.3 192.8h5.6M674.1 190.0v5.6M674.1 190.9l5.6 5.6M674.1 196.5l5.6 -5.6M674.1 193.7h5.6M676.9 190.9v5.6M676.5 188.6l5.6 5.6M676.5 194.2l5.6 -5.6M676.5 191.4h5.6M679.3 188.6v5.6M678.7 193.4l5.6 5.6M678.7 199.0l5.6 -5.6M678.7 196.2h5.6M681.5 193.4v5.6M681.1 190.5l5.6 5.6M681.1 196.1l5.6 -5.6M681.1 193.3h5.6M683.9 190.5v5.6M683.7 196.4l5.6 5.6M683.7 202.0l5.6 -5.6M683.7 199.2h5.6M686.5 196.4v5.6M685.9 197.9l5.6 5.6M685.9 203.5l5.6 -5.6M685.9 200.7h5.6M688.7 197.9v5.6M688.2 193.0l5.6 5.6M688.2 198.6l5.6 -5.6M688.2 195.8h5.6M691.0 193.0v5.6M690.7 205.3l5.6 5.6M690.7 210.9l5.6 -5.6M690.7 208.1h5.6M693.5 205.3v5.6M692.9 198.5l5.6 5.6M692.9 204.1l5.6 -5.6M692.9 201.3h5.6M695.7 198.5v5.6M695.2 207.1l5.6 5.6M695.2 212.7l5.6 -5.6M695.2 209.9h5.6M698.0 207.1v5.6M697.7 196.3l5.6 5.6M697.7 201.9l5.6 -5.6M697.7 199.1h5.6M700.5 196.3v5.6M701.6 205.1l5.6 5.6M701.6 210.7l5.6 -5.6M701.6 207.9h5.6M704.4 205.1v5.6M704.4 201.4l5.6 5.6M704.4 207.0l5.6 -5.6M704.4 204.2h5.6M707.2 201.4v5.6M708.3 206.4l5.6 5.6M708.3 212.0l5.6 -5.6M708.3 209.2h5.6M711.1 206.4v5.6M710.9 201.0l5.6 5.6M710.9 206.6l5.6 -5.6M710.9 203.8h5.6M713.7 201.0v5.6M714.6 203.0l5.6 5.6M714.6 208.6l5.6 -5.6M714.6 205.8h5.6M717.4 203.0v5.6M718.3 211.1l5.6 5.6M718.3 216.7l5.6 -5.6M718.3 213.9h5.6M721.1 211.1v5.6M721.1 212.3l5.6 5.6M721.1 217.9l5.6 -5.6M721.1 215.1h5.6M723.9 212.3v5.6M724.3 214.7l5.6 5.6M724.3 220.3l5.6 -5.6M724.3 217.5h5.6M727.1 214.7v5.6M728.0 216.1l5.6 5.6M728.0 221.7l5.6 -5.6M728.0 218.9h5.6M730.8 216.1v5.6M730.7 216.6l5.6 5.6M730.7 222.2l5.6 -5.6M730.7 219.4h5.6M733.5 216.6v5.6M734.1 215.7l5.6 5.6M734.1 221.3l5.6 -5.6M734.1 218.5h5.6M736.9 215.7v5.6M737.8 215.2l5.6 5.6M737.8 220.8l5.6 -5.6M737.8 218.0h5.6M740.6 215.2v5.6M741.1 221.5l5.6 5.6M741.1 227.1l5.6 -5.6M741.1 224.3h5.6M743.9 221.5v5.6M744.7 218.1l5.6 5.6M744.7 223.7l5.6 -5.6M744.7 220.9h5.6M747.5 218.1v5.6M747.7 224.1l5.6 5.6M747.7 229.7l5.6 -5.6M747.7 226.9h5.6M750.5 224.1v5.6M750.6 224.9l5.6 5.6M750.6 230.5l5.6 -5.6M750.6 227.7h5.6M753.4 224.9v5.6M753.7 225.1l5.6 5.6M753.7 230.7l5.6 -5.6M753.7 227.9h5.6M756.5 225.1v5.6M756.6 228.6l5.6 5.6M756.6 234.2l5.6 -5.6M756.6 231.4h5.6M759.4 228.6v5.6M759.7 228.5l5.6 5.6M759.7 234.1l5.6 -5.6M759.7 231.3h5.6M762.5 228.5v5.6M763.6 230.4l5.6 5.6M763.6 236.0l5.6 -5.6M763.6 233.2h5.6M766.4 230.4v5.6M767.0 235.9l5.6 5.6M767.0 241.5l5.6 -5.6M767.0 238.7h5.6M769.8 235.9v5.6M770.1 236.5l5.6 5.6M770.1 242.1l5.6 -5.6M770.1 239.3h5.6M772.9 236.5v5.6M773.1 232.5l5.6 5.6M773.1 238.1l5.6 -5.6M773.1 235.3h5.6M775.9 232.5v5.6M776.9 242.8l5.6 5.6M776.9 248.4l5.6 -5.6M776.9 245.6h5.6M779.7 242.8v5.6M780.2 242.6l5.6 5.6M780.2 248.2l5.6 -5.6M780.2 245.4h5.6M783.0 242.6v5.6M784.1 246.6l5.6 5.6M784.1 252.2l5.6 -5.6M784.1 249.4h5.6M786.9 246.6v5.6M787.4 252.1l5.6 5.6M787.4 257.7l5.6 -5.6M787.4 254.9h5.6M790.2 252.1v5.6M790.8 242.6l5.6 5.6M790.8 248.2l5.6 -5.6M790.8 245.4h5.6M793.6 242.6v5.6M794.6 242.3l5.6 5.6M794.6 247.9l5.6 -5.6M794.6 245.1h5.6M797.4 242.3v5.6M798.2 246.3l5.6 5.6M798.2 251.9l5.6 -5.6M798.2 249.1h5.6M801.0 246.3v5.6M802.2 251.2l5.6 5.6M802.2 256.8l5.6 -5.6M802.2 254.0h5.6M805.0 251.2v5.6M806.0 260.3l5.6 5.6M806.0 265.9l5.6 -5.6M806.0 263.1h5.6M808.8 260.3v5.6M810.5 250.4l5.6 5.6M810.5 256.0l5.6 -5.6M810.5 253.2h5.6M813.3 250.4v5.6M814.3 258.4l5.6 5.6M814.3 264.0l5.6 -5.6M814.3 261.2h5.6M817.1 258.4v5.6M818.8 255.8l5.6 5.6M818.8 261.4l5.6 -5.6M818.8 258.6h5.6M821.6 255.8v5.6M822.1 262.9l5.6 5.6M822.1 268.5l5.6 -5.6M822.1 265.7h5.6M824.9 262.9v5.6M825.8 261.5l5.6 5.6M825.8 267.1l5.6 -5.6M825.8 264.3h5.6M828.6 261.5v5.6M829.8 258.7l5.6 5.6M829.8 264.3l5.6 -5.6M829.8 261.5h5.6M832.6 258.7v5.6M834.4 269.6l5.6 5.6M834.4 275.2l5.6 -5.6M834.4 272.4h5.6M837.2 269.6v5.6M837.9 268.4l5.6 5.6M837.9 274.0l5.6 -5.6M837.9 271.2h5.6M840.7 268.4v5.6M842.3 272.5l5.6 5.6M842.3 278.1l5.6 -5.6M842.3 275.3h5.6M845.1 272.5v5.6M846.4 274.2l5.6 5.6M846.4 279.8l5.6 -5.6M846.4 277.0h5.6M849.2 274.2v5.6M850.7 271.2l5.6 5.6M850.7 276.8l5.6 -5.6M850.7 274.0h5.6M853.5 271.2v5.6M854.8 284.1l5.6 5.6M854.8 289.7l5.6 -5.6M854.8 286.9h5.6M857.6 284.1v5.6M859.4 284.8l5.6 5.6M859.4 290.4l5.6 -5.6M859.4 287.6h5.6M862.2 284.8v5.6M863.1 282.8l5.6 5.6M863.1 288.4l5.6 -5.6M863.1 285.6h5.6M865.9 282.8v5.6M869.1 283.8l5.6 5.6M869.1 289.4l5.6 -5.6M869.1 286.6h5.6M871.9 283.8v5.6M873.8 294.2l5.6 5.6M873.8 299.8l5.6 -5.6M873.8 297.0h5.6M876.6 294.2v5.6M879.0 293.7l5.6 5.6M879.0 299.3l5.6 -5.6M879.0 296.5h5.6M881.8 293.7v5.6M884.2 298.4l5.6 5.6M884.2 304.0l5.6 -5.6M884.2 301.2h5.6M887.0 298.4v5.6M889.2 286.1l5.6 5.6M889.2 291.7l5.6 -5.6M889.2 288.9h5.6M892.0 286.1v5.6M893.7 292.8l5.6 5.6M893.7 298.4l5.6 -5.6M893.7 295.6h5.6M896.5 292.8v5.6M898.0 304.1l5.6 5.6M898.0 309.7l5.6 -5.6M898.0 306.9h5.6M900.8 304.1v5.6M903.6 297.5l5.6 5.6M903.6 303.1l5.6 -5.6M903.6 300.3h5.6M906.4 297.5v5.6M908.4 293.2l5.6 5.6M908.4 298.8l5.6 -5.6M908.4 296.0h5.6M911.2 293.2v5.6M913.6 302.2l5.6 5.6M913.6 307.8l5.6 -5.6M913.6 305.0h5.6M916.4 302.2v5.6M918.6 296.1l5.6 5.6M918.6 301.7l5.6 -5.6M918.6 298.9h5.6M921.4 296.1v5.6M924.0 307.9l5.6 5.6M924.0 313.5l5.6 -5.6M924.0 310.7h5.6M926.8 307.9v5.6M930.1 310.3l5.6 5.6M930.1 315.9l5.6 -5.6M930.1 313.1h5.6M932.9 310.3v5.6M937.2 327.3l5.6 5.6M937.2 332.9l5.6 -5.6M937.2 330.1h5.6M940.0 327.3v5.6M947.2 324.0l5.6 5.6M947.2 329.6l5.6 -5.6M947.2 326.8h5.6M950.0 324.0v5.6M956.2 325.4l5.6 5.6M956.2 331.0l5.6 -5.6M956.2 328.2h5.6M959.0 325.4v5.6M965.2 339.3l6.8 6.8M965.2 346.1l6.8 -6.8M965.2 342.7h6.8M968.6 339.3v6.8M986.4 356.0l6.8 6.8M986.4 362.8l6.8 -6.8M986.4 359.4h6.8M989.8 356.0v6.8M1009.1 369.8l6.8 6.8M1009.1 376.6l6.8 -6.8M1009.1 373.2h6.8M1012.5 369.8v6.8M1024.8 385.3l6.8 6.8M1024.8 392.1l6.8 -6.8M1024.8 388.7h6.8M1028.2 385.3v6.8M1042.2 400.8l6.8 6.8M1042.2 407.6l6.8 -6.8M1042.2 404.2h6.8M1045.6 400.8v6.8M1058.8 407.4l6.8 6.8M1058.8 414.2l6.8 -6.8M1058.8 410.8h6.8M1062.2 407.4v6.8M1075.9 439.9l6.8 6.8M1075.9 446.7l6.8 -6.8M1075.9 443.3h6.8M1079.3 439.9v6.8M1093.2 491.1l6.8 6.8M1093.2 497.9l6.8 -6.8M1093.2 494.5h6.8M1096.6 491.1v6.8M1110.0 474.6l6.8 6.8M1110.0 481.4l6.8 -6.8M1110.0 478.0h6.8M1113.4 474.6v6.8M1127.4 479.8l6.8 6.8M1127.4 486.6l6.8 -6.8M1127.4 483.2h6.8M1130.8 479.8v6.8M1161.5 480.2l6.8 6.8M1161.5 487.0l6.8 -6.8M1161.5 483.6h6.8M1164.9 480.2v6.8" stroke-width="1.6"/>
<path d="M290.4 572.4L342.7 223.4L344.9 221.62L347.1 219.89L349.3 218.17L351.5 216.45L353.7 214.74L355.8 213.04L358.0 211.33L360.2 209.64L362.4 207.95L364.6 206.27L366.8 204.59L369.0 202.92L371.2 201.26L373.4 199.61L375.6 197.97L377.8 196.33L380.0 194.70L382.1 193.09L384.3 191.48L386.5 189.88L388.7 188.30L390.9 186.72L393.1 185.16L395.3 183.61L397.5 182.07L399.7 180.54L401.9 179.03L404.1 177.54L406.2 176.06L408.4 174.59L410.6 173.14L412.8 171.71L415.0 170.29L417.2 168.90L419.4 167.52L421.6 166.16L423.8 164.82L426.0 163.51L428.2 162.21L430.3 160.94L432.5 159.69L434.7 158.47L436.9 157.27L439.1 156.09L441.3 154.94L443.5 153.82L445.7 152.73L447.9 151.66L450.1 150.62L452.3 149.62L454.5 148.64L456.6 147.69L458.8 146.78L461.0 145.90L463.2 145.05L465.4 144.23L467.6 143.45L469.8 142.71L472.0 142.00L474.2 141.32L476.4 140.68L478.6 140.08L480.7 139.51L482.9 138.98L485.1 138.49L487.3 138.03L489.5 137.61L491.7 137.23L493.9 136.89L496.1 136.58L498.3 136.31L500.5 136.08L502.7 135.89L504.9 135.73L507.0 135.61L509.2 135.53L511.4 135.48L513.6 135.47L515.8 135.49L518.0 135.55L520.2 135.64L522.4 135.76L524.6 135.92L526.8 136.11L529.0 136.33L531.1 136.59L533.3 136.87L535.5 137.19L537.7 137.53L539.9 137.90L542.1 138.30L544.3 138.73L546.5 139.18L548.7 139.66L550.9 140.17L553.1 140.69L555.2 141.25L557.4 141.82L559.6 142.42L561.8 143.03L564.0 143.67L566.2 144.33L568.4 145.00L570.6 145.70L572.8 146.41L575.0 147.14L577.2 147.89L579.4 148.65L581.5 149.43L583.7 150.22L585.9 151.02L588.1 151.84L590.3 152.68L592.5 153.52L594.7 154.38L596.9 155.25L599.1 156.12L601.3 157.01L603.5 157.91L605.6 158.82L607.8 159.74L610.0 160.67L612.2 161.60L614.4 162.55L616.6 163.50L618.8 164.45L621.0 165.42L623.2 166.39L625.4 167.37L627.6 168.35L629.8 169.34L631.9 170.34L634.1 171.34L636.3 172.35L638.5 173.36L640.7 174.37L642.9 175.39L645.1 176.42L647.3 177.44L649.5 178.48L651.7 179.51L653.9 180.55L656.0 181.59L658.2 182.63L660.4 183.68L662.6 184.73L664.8 185.79L667.0 186.84L669.2 187.90L671.4 188.96L673.6 190.02L675.8 191.09L678.0 192.15L680.1 193.22L682.3 194.29L684.5 195.37L686.7 196.44L688.9 197.51L691.1 198.59L693.3 199.67L695.5 200.75L697.7 201.83L699.9 202.91L702.1 203.99L704.3 205.08L706.4 206.16L708.6 207.25L710.8 208.34L713.0 209.42L715.2 210.51L717.4 211.60L719.6 212.69L721.8 213.78L724.0 214.88L726.2 215.97L728.4 217.06L730.5 218.15L732.7 219.25L734.9 220.34L737.1 221.44L739.3 222.53L741.5 223.63L743.7 224.73L745.9 225.82L748.1 226.92L750.3 228.02L752.5 229.12L754.7 230.21L756.8 231.31L759.0 232.41L761.2 233.51L763.4 234.61L765.6 235.71L767.8 236.81L770.0 237.91L772.2 239.01L774.4 240.11L776.6 241.21L778.8 242.31L780.9 243.42L783.1 244.52L785.3 245.62L787.5 246.72L789.7 247.82L791.9 248.93L794.1 250.03L796.3 251.13L798.5 252.23L800.7 253.34L802.9 254.44L805.0 255.54L807.2 256.64L809.4 257.75L811.6 258.85L813.8 259.95L816.0 261.06L818.2 262.16L820.4 263.26L822.6 264.37L824.8 265.47L827.0 266.57L829.2 267.68L831.3 268.78L833.5 269.89L835.7 270.99L837.9 272.09L840.1 273.20L842.3 274.30L844.5 275.41L846.7 276.51L848.9 277.61L851.1 278.72L853.3 279.82L855.4 280.93L857.6 282.03L859.8 283.14L862.0 284.24L864.2 285.35L866.4 286.45L868.6 287.55L870.8 288.66L873.0 289.76L875.2 290.87L877.4 291.98L879.6 293.08L881.7 294.19L883.9 295.29L886.1 296.40L888.3 297.50L890.5 298.61L892.7 299.72L894.9 300.82L897.1 301.93L899.3 303.04L901.5 304.15L903.7 305.26L905.8 306.37L908.0 307.48L910.2 308.59L912.4 309.70L914.6 310.82L916.8 311.93L919.0 313.05L921.2 314.17L923.4 315.29L925.6 316.42L927.8 317.55L929.9 318.68L932.1 319.81L934.3 320.95L936.5 322.09L938.7 323.25L940.9 324.40L943.1 325.57L945.3 326.74L947.5 327.92L949.7 329.12L951.9 330.32L954.1 331.55L956.2 332.78L958.4 334.04L960.6 335.31L962.8 336.61L965.0 337.92L967.2 339.27L969.4 340.64L971.6 342.05L973.8 343.48L976.0 344.95L978.2 346.45L980.3 347.99L982.5 349.57L984.7 351.19L986.9 352.85L989.1 354.54L991.3 356.27L993.5 358.04L995.7 359.85L997.9 361.69L1000.1 363.57L1002.3 365.47L1004.5 367.40L1006.6 369.36L1008.8 371.35L1011.0 373.36L1013.2 375.38L1015.4 377.43L1017.6 379.49L1019.8 381.57L1022.0 383.66L1024.2 385.76L1026.4 387.87L1028.6 389.99L1030.7 392.12L1032.9 394.26L1035.1 396.40L1037.3 398.55L1039.5 400.71L1041.7 402.86L1043.9 405.02L1046.1 407.19L1048.3 409.35L1050.5 411.52L1052.7 413.69L1054.8 415.87L1057.0 418.04L1059.2 420.22L1061.4 422.40L1063.6 424.57L1065.8 426.75L1068.0 428.93L1070.2 431.11L1072.4 433.29L1074.6 435.48L1076.8 437.66L1079.0 439.84L1081.1 442.02L1083.3 444.21L1085.5 446.39L1087.7 448.57L1089.9 450.76L1092.1 452.94L1094.3 455.13L1096.5 457.31L1098.7 459.49L1100.9 461.68L1103.1 463.86L1105.2 466.05L1107.4 468.23L1109.6 470.42L1111.8 472.60L1114.0 474.79L1116.2 476.97L1118.4 479.16L1120.6 481.34L1122.8 483.53L1125.0 485.71L1127.2 487.89L1129.4 490.08L1131.5 492.26L1133.7 494.45L1135.9 496.63L1138.1 498.82L1140.3 501.00L1142.5 503.19L1144.7 505.37L1146.9 507.56L1149.1 509.74L1151.3 511.93L1153.5 514.11L1155.6 516.30L1157.8 518.48L1160.0 520.67L1162.2 522.85L1164.4 525.04L1166.6 527.22L1168.8 529.41L1171.0 531.59L1173.2 533.78L1175.4 535.96L1177.6 538.15L1179.7 540.33L1181.9 542.52L1184.1 544.70L1186.3 546.89L1188.5 549.07L1190.7 551.26L1192.9 553.44L1195.1 555.63L1197.3 557.81L1199.5 560.00L1201.7 562.18L1203.9 564.37L1206.0 566.55L1208.2 568.74L1210.4 570.92L1212.6 573.11L1214.8 575.29L1217.0 577.48" stroke="#ff6633" stroke-width="4.2" stroke-linejoin="round"/>
</g>
<g clip-path="url(#cl)">
<path d="M370.1 757.0H449.8M370.1 750.2v13.6M449.8 750.2v13.6M409.9 699.6V813.9M407.7 699.6h4.4M407.7 813.9h4.4M449.4 730.6H499.1M449.4 723.8v13.6M499.1 723.8v13.6M473.7 690.4V770.1M471.5 690.4h4.4M471.5 770.1h4.4M498.3 699.9H534.1M498.3 693.1v13.6M534.1 693.1v13.6M516.3 655.9V744.1M514.1 655.9h4.4M514.1 744.1h4.4M533.4 843.9H566.5M533.4 837.1v13.6M566.5 837.1v13.6M549.9 803.7V883.7M547.7 803.7h4.4M547.7 883.7h4.4M565.8 749.5H593.2M565.8 742.7v13.6M593.2 742.7v13.6M579.5 709.8V788.6M577.3 709.8h4.4M577.3 788.6h4.4M592.5 853.6H630.4M592.5 846.8v13.6M630.4 846.8v13.6M611.4 822.9V884.9M609.2 822.9h4.4M609.2 884.9h4.4M630.1 802.8H711.3M630.1 796.0v13.6M711.3 796.0v13.6M670.8 773.9V830.7M668.6 773.9h4.4M668.6 830.7h4.4M711.3 796.4H765.0M711.3 789.6v13.6M765.0 789.6v13.6M738.2 763.1V830.5M736.0 763.1h4.4M736.0 830.5h4.4M764.5 859.1H809.2M764.5 852.3v13.6M809.2 852.3v13.6M787.0 824.6V893.2M784.8 824.6h4.4M784.8 893.2h4.4M808.7 891.5H847.8M808.7 884.7v13.6M847.8 884.7v13.6M828.1 854.9V928.9M825.9 854.9h4.4M825.9 928.9h4.4M847.8 824.8H879.7M847.8 818.0v13.6M879.7 818.0v13.6M863.9 778.7V870.7M861.7 778.7h4.4M861.7 870.7h4.4M879.0 894.4H909.0M879.0 887.6v13.6M909.0 887.6v13.6M894.2 853.0V935.8M892.0 853.0h4.4M892.0 935.8h4.4M909.0 942.4H965.3M909.0 935.6v13.6M965.3 935.6v13.6M936.4 904.5V980.3M934.2 904.5h4.4M934.2 980.3h4.4M964.8 890.3H1003.6M964.8 883.5v13.6M1003.6 883.5v13.6M984.2 839.0V941.7M982.0 839.0h4.4M982.0 941.7h4.4M1003.1 860.8H1052.1M1003.1 854.0v13.6M1052.1 854.0v13.6M1027.5 778.0V943.6M1025.3 778.0h4.4M1025.3 943.6h4.4M1051.6 850.1H1095.4M1051.6 843.3v13.6M1095.4 843.3v13.6M1074.1 735.9V964.9M1071.9 735.9h4.4M1071.9 964.9h4.4" fill="none" stroke="#0066cc" stroke-width="2"/>
<circle cx="409.9" cy="757.0" r="9" fill="#0066cc"/>
<circle cx="473.7" cy="730.6" r="9" fill="#0066cc"/>
<circle cx="516.3" cy="699.9" r="9" fill="#0066cc"/>
<circle cx="549.9" cy="843.9" r="9" fill="#0066cc"/>
<circle cx="579.5" cy="749.5" r="9" fill="#0066cc"/>
<circle cx="611.4" cy="853.6" r="9" fill="#0066cc"/>
<circle cx="670.8" cy="802.8" r="9" fill="#0066cc"/>
<circle cx="738.2" cy="796.4" r="9" fill="#0066cc"/>
<circle cx="787.0" cy="859.1" r="9" fill="#0066cc"/>
<circle cx="828.1" cy="891.5" r="9" fill="#0066cc"/>
<circle cx="863.9" cy="824.8" r="9" fill="#0066cc"/>
<circle cx="894.2" cy="894.4" r="9" fill="#0066cc"/>
<circle cx="936.4" cy="942.4" r="9" fill="#0066cc"/>
<circle cx="984.2" cy="890.3" r="9" fill="#0066cc"/>
<circle cx="1027.5" cy="860.8" r="9" fill="#0066cc"/>
<circle cx="1074.1" cy="850.1" r="9" fill="#0066cc"/>
<path d="M143 708.9L317.8 708.9L368.1 724.4" fill="none" stroke="#ff6633" stroke-width="4" stroke-dasharray="6.9 6.4"/>
<path d="M368.1 724.4L1092.0 942.3" fill="none" stroke="#ff6633" stroke-width="4"/>
<path d="M1093.5 942.8L1207.5 977.5" fill="none" stroke="#ff6633" stroke-width="4" stroke-dasharray="6.9 6.4"/>
</g>
<path d="M227.58 32.2v10.8M227.58 560.8v21.2M227.58 1110.8v-10.6M280.39 32.2v10.8M280.39 560.8v21.2M280.39 1110.8v-10.6M317.86 32.2v10.8M317.86 560.8v21.2M317.86 1110.8v-10.6M346.92 32.2v10.8M346.92 560.8v21.2M346.92 1110.8v-10.6M370.67 32.2v10.8M370.67 560.8v21.2M370.67 1110.8v-10.6M390.74 32.2v10.8M390.74 560.8v21.2M390.74 1110.8v-10.6M408.14 32.2v10.8M408.14 560.8v21.2M408.14 1110.8v-10.6M423.48 32.2v10.8M423.48 560.8v21.2M423.48 1110.8v-10.6M527.48 32.2v10.8M527.48 560.8v21.2M527.48 1110.8v-10.6M580.29 32.2v10.8M580.29 560.8v21.2M580.29 1110.8v-10.6M617.76 32.2v10.8M617.76 560.8v21.2M617.76 1110.8v-10.6M646.82 32.2v10.8M646.82 560.8v21.2M646.82 1110.8v-10.6M670.57 32.2v10.8M670.57 560.8v21.2M670.57 1110.8v-10.6M690.64 32.2v10.8M690.64 560.8v21.2M690.64 1110.8v-10.6M708.04 32.2v10.8M708.04 560.8v21.2M708.04 1110.8v-10.6M723.38 32.2v10.8M723.38 560.8v21.2M723.38 1110.8v-10.6M827.38 32.2v10.8M827.38 560.8v21.2M827.38 1110.8v-10.6M880.19 32.2v10.8M880.19 560.8v21.2M880.19 1110.8v-10.6M917.66 32.2v10.8M917.66 560.8v21.2M917.66 1110.8v-10.6M946.72 32.2v10.8M946.72 560.8v21.2M946.72 1110.8v-10.6M970.47 32.2v10.8M970.47 560.8v21.2M970.47 1110.8v-10.6M990.54 32.2v10.8M990.54 560.8v21.2M990.54 1110.8v-10.6M1007.94 32.2v10.8M1007.94 560.8v21.2M1007.94 1110.8v-10.6M1023.28 32.2v10.8M1023.28 560.8v21.2M1023.28 1110.8v-10.6M1127.28 32.2v10.8M1127.28 560.8v21.2M1127.28 1110.8v-10.6M1180.09 32.2v10.8M1180.09 560.8v21.2M1180.09 1110.8v-10.6M1217.56 32.2v10.8M1217.56 560.8v21.2M1217.56 1110.8v-10.6M437.20 32.2v21.6M437.20 550.0v42.8M437.20 1110.8v-21.4M737.10 32.2v21.6M737.10 550.0v42.8M737.10 1110.8v-21.4M1037.00 32.2v21.6M1037.00 550.0v42.8M1037.00 1110.8v-21.4M137.3 564.38h10.6M1217.5 564.38h-11.4M137.3 557.47h10.6M1217.5 557.47h-11.4M137.3 551.29h21.4M1217.5 551.29h-22.2M137.3 510.64h10.6M1217.5 510.64h-11.4M137.3 486.86h10.6M1217.5 486.86h-11.4M137.3 469.99h10.6M1217.5 469.99h-11.4M137.3 456.91h10.6M1217.5 456.91h-11.4M137.3 446.22h10.6M1217.5 446.22h-11.4M137.3 437.18h10.6M1217.5 437.18h-11.4M137.3 429.35h10.6M1217.5 429.35h-11.4M137.3 422.44h10.6M1217.5 422.44h-11.4M137.3 416.26h21.4M1217.5 416.26h-22.2M137.3 375.61h10.6M1217.5 375.61h-11.4M137.3 351.83h10.6M1217.5 351.83h-11.4M137.3 334.96h10.6M1217.5 334.96h-11.4M137.3 321.88h10.6M1217.5 321.88h-11.4M137.3 311.19h10.6M1217.5 311.19h-11.4M137.3 302.15h10.6M1217.5 302.15h-11.4M137.3 294.32h10.6M1217.5 294.32h-11.4M137.3 287.41h10.6M1217.5 287.41h-11.4M137.3 281.23h21.4M1217.5 281.23h-22.2M137.3 240.58h10.6M1217.5 240.58h-11.4M137.3 216.80h10.6M1217.5 216.80h-11.4M137.3 199.93h10.6M1217.5 199.93h-11.4M137.3 186.85h10.6M1217.5 186.85h-11.4M137.3 176.16h10.6M1217.5 176.16h-11.4M137.3 167.12h10.6M1217.5 167.12h-11.4M137.3 159.29h10.6M1217.5 159.29h-11.4M137.3 152.38h10.6M1217.5 152.38h-11.4M137.3 146.20h21.4M1217.5 146.20h-22.2M137.3 105.55h10.6M1217.5 105.55h-11.4M137.3 81.77h10.6M1217.5 81.77h-11.4M137.3 64.90h10.6M1217.5 64.90h-11.4M137.3 51.82h10.6M1217.5 51.82h-11.4M137.3 41.13h10.6M1217.5 41.13h-11.4M137.3 1077.45h10.6M1217.5 1077.45h-11.4M137.3 1043.70h21.4M1217.5 1043.70h-22.2M137.3 1009.95h10.6M1217.5 1009.95h-11.4M137.3 976.20h10.6M1217.5 976.20h-11.4M137.3 942.45h10.6M1217.5 942.45h-11.4M137.3 908.70h21.4M1217.5 908.70h-22.2M137.3 874.95h10.6M1217.5 874.95h-11.4M137.3 841.20h10.6M1217.5 841.20h-11.4M137.3 807.45h10.6M1217.5 807.45h-11.4M137.3 773.70h21.4M1217.5 773.70h-22.2M137.3 739.95h10.6M1217.5 739.95h-11.4M137.3 706.20h10.6M1217.5 706.20h-11.4M137.3 672.45h10.6M1217.5 672.45h-11.4M137.3 638.70h21.4M1217.5 638.70h-22.2M137.3 604.95h10.6M1217.5 604.95h-11.4" fill="none" stroke="#000" stroke-width="2.1"/>
<rect x="137.3" y="32.2" width="1080.2" height="1078.6" fill="none" stroke="#000" stroke-width="3.3"/>
<path d="M137.3 571.4H1217.5" stroke="#000" stroke-width="3.2" fill="none"/>
<path d="M138.9 570.1999999999999H1215.9M138.9 1109.3H1215.9" stroke="#000080" stroke-width="0.9" fill="none"/>
<g font-family="'Liberation Sans', Arial, Helvetica, sans-serif" fill="#000">
<text><tspan x="81.50" y="157.40" font-size="27.4" textLength="28.80" lengthAdjust="spacingAndGlyphs">10</tspan><tspan x="108.70" y="145.70" font-size="18.2" textLength="19.61" lengthAdjust="spacingAndGlyphs">−5</tspan></text>
<text><tspan x="81.50" y="292.43" font-size="27.4" textLength="28.80" lengthAdjust="spacingAndGlyphs">10</tspan><tspan x="108.70" y="280.73" font-size="18.2" textLength="19.61" lengthAdjust="spacingAndGlyphs">−6</tspan></text>
<text><tspan x="81.50" y="427.46" font-size="27.4" textLength="28.80" lengthAdjust="spacingAndGlyphs">10</tspan><tspan x="108.70" y="415.76" font-size="18.2" textLength="19.61" lengthAdjust="spacingAndGlyphs">−7</tspan></text>
<text><tspan x="81.50" y="562.49" font-size="27.4" textLength="28.80" lengthAdjust="spacingAndGlyphs">10</tspan><tspan x="108.70" y="550.79" font-size="18.2" textLength="19.61" lengthAdjust="spacingAndGlyphs">−8</tspan></text>
<text x="94.91" y="648.40" font-size="27.4" textLength="35.99" lengthAdjust="spacingAndGlyphs">2.6</text>
<text x="94.91" y="783.40" font-size="27.4" textLength="35.99" lengthAdjust="spacingAndGlyphs">2.4</text>
<text x="94.91" y="918.40" font-size="27.4" textLength="35.99" lengthAdjust="spacingAndGlyphs">2.2</text>
<text x="116.50" y="1053.40" font-size="27.4" textLength="14.40" lengthAdjust="spacingAndGlyphs">2</text>
<text x="131.60" y="1149.20" font-size="27.4" textLength="14.40" lengthAdjust="spacingAndGlyphs">1</text>
<text x="422.40" y="1149.20" font-size="27.4" textLength="28.80" lengthAdjust="spacingAndGlyphs">10</text>
<text><tspan x="718.30" y="1149.20" font-size="27.4" textLength="28.80" lengthAdjust="spacingAndGlyphs">10</tspan><tspan x="746.40" y="1137.00" font-size="18.2" textLength="9.57" lengthAdjust="spacingAndGlyphs">2</tspan></text>
<text><tspan x="1018.20" y="1149.20" font-size="27.4" textLength="28.80" lengthAdjust="spacingAndGlyphs">10</tspan><tspan x="1046.30" y="1137.00" font-size="18.2" textLength="9.57" lengthAdjust="spacingAndGlyphs">3</tspan></text>
<text x="176.00" y="95.40" font-size="44.4" font-weight="bold" textLength="29.02" lengthAdjust="spacingAndGlyphs">A</text>
<text x="176.00" y="634.30" font-size="44.0" font-weight="bold" textLength="28.60" lengthAdjust="spacingAndGlyphs">B</text>
<text font-weight="bold"><tspan x="548.30" y="1189.80" font-size="31.8" textLength="71.10" lengthAdjust="spacingAndGlyphs">Time</tspan> <tspan x="627.30" y="1189.80" font-size="31.8" textLength="77.90" lengthAdjust="spacingAndGlyphs">since</tspan> <tspan x="712.80" y="1189.80" font-size="31.8" textLength="30.46" lengthAdjust="spacingAndGlyphs">T*</tspan> <tspan x="752.60" y="1189.80" font-size="31.8" textLength="10.14" lengthAdjust="spacingAndGlyphs">[</tspan> <tspan x="770.40" y="1189.80" font-size="31.8" textLength="16.94" lengthAdjust="spacingAndGlyphs">s</tspan> <tspan x="796.80" y="1189.80" font-size="31.8" textLength="10.14" lengthAdjust="spacingAndGlyphs">]</tspan></text>
<g transform="translate(43.4 483.8) rotate(-90)">
<text font-weight="bold"><tspan x="0.00" y="0.00" font-size="32.2" textLength="100.98" lengthAdjust="spacingAndGlyphs">Energy</tspan> <tspan x="110.90" y="0.00" font-size="32.2" textLength="54.10" lengthAdjust="spacingAndGlyphs">flux</tspan> <tspan x="174.20" y="0.00" font-size="32.2" textLength="10.29" lengthAdjust="spacingAndGlyphs">[</tspan> <tspan x="192.80" y="0.00" font-size="32.2" textLength="47.60" lengthAdjust="spacingAndGlyphs">erg</tspan> <tspan x="247.20" y="0.00" font-size="32.2" textLength="44.68" lengthAdjust="spacingAndGlyphs">cm</tspan><tspan x="291.60" y="-14.60" font-size="19.6" textLength="16.73" lengthAdjust="spacingAndGlyphs">-2</tspan> <tspan x="317.70" y="0.00" font-size="32.2" textLength="17.19" lengthAdjust="spacingAndGlyphs">s</tspan><tspan x="334.70" y="-11.20" font-size="19.6" textLength="16.73" lengthAdjust="spacingAndGlyphs">-1</tspan> <tspan x="356.20" y="0.00" font-size="32.2" textLength="10.29" lengthAdjust="spacingAndGlyphs">]</tspan></text>
</g>
<g transform="translate(40.7 945.0) rotate(-90)">
<text font-weight="bold"><tspan x="0.00" y="0.00" font-size="31.8" textLength="118.59" lengthAdjust="spacingAndGlyphs">Spectral</tspan> <tspan x="128.30" y="0.00" font-size="31.8" textLength="79.73" lengthAdjust="spacingAndGlyphs">Index</tspan></text>
</g>
</g>
</svg>
</body></html>
